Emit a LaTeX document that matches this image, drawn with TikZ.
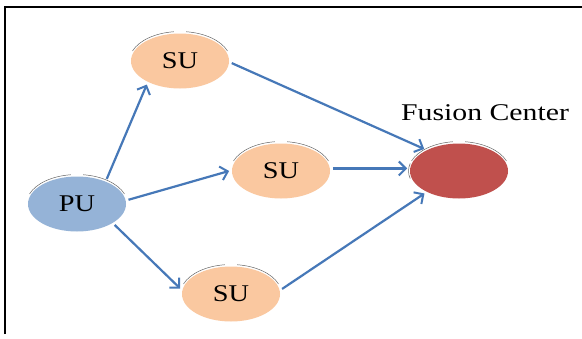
\documentclass[tikz,border=0pt]{standalone}
\usepackage{fontspec}
\setmainfont{Liberation Serif}
\usetikzlibrary{shapes.geometric,arrows.meta}
\definecolor{puBlue}{HTML}{95B3D7}
\definecolor{suPeach}{HTML}{FAC8A0}
\definecolor{fcRed}{HTML}{C0504D}
\definecolor{arrBlue}{HTML}{4678B8}
\tikzset{
  lbl/.style={font=\fontsize{24}{27}\selectfont},
  blob/.style={ellipse, minimum width=98pt, minimum height=55pt, inner sep=0pt, outer sep=0pt, lbl},
  pu/.style={blob, fill=puBlue},
  su/.style={blob, fill=suPeach},
  fc/.style={blob, fill=fcRed},
  link/.style={draw=arrBlue, line width=2.2pt, shorten <=3pt, shorten >=3pt,
    -{Straight Barb[length=7pt, width=14pt, line width=2pt]}},
  rim/.style={draw=black!60, line width=0.5pt},
  frame/.style={draw=black, line width=2pt}
}
\newcommand{\wlabel}[1]{\scalebox{1.18}[1]{#1}}
\begin{document}
\begin{tikzpicture}[x=1pt,y=1pt]
\useasboundingbox (0,0) rectangle (582,-338);
\fill[white] (0,0) rectangle (582,-338);
% frame (left and top edges)
\draw[frame] (4.5,-334) -- (4.5,-6.5) -- (582,-6.5);
% nodes
\node[pu] (pu) at (77,-204) {\wlabel{PU}};
\node[su] (su1) at (180,-61) {\wlabel{SU}};
\node[su] (su2) at (281,-171) {\wlabel{SU}};
\node[su] (su3) at (231,-294) {\wlabel{SU}};
\node[fc] (fc) at (459,-171) {};
\node[lbl] (fclabel) at (485,-113) {\scalebox{1.24}[1]{Fusion Center}};
% rims (shadow arcs)
\foreach \n in {pu,su1,su2,su3,fc}{
  \draw[rim,shift={(\n.center)}] (160:50.5 and 29.5) arc[start angle=160,end angle=97,x radius=50.5,y radius=29.5];
  \draw[rim,shift={(\n.center)}] (83:50.5 and 29.5) arc[start angle=83,end angle=20,x radius=50.5,y radius=29.5];
}
\draw[rim,shift={(fc.center)}] (195:50.5 and 29.5) arc[start angle=195,end angle=165,x radius=50.5,y radius=29.5];
% connectors
\draw[link] (pu.38) -- (su1.213);
\draw[link] (pu.4) -- (su2.179);
\draw[link] (pu.-28) -- (su3.176);
\draw[link] (su1.-1) -- (fc.147);
\draw[link] (su2.3) -- (fc.177);
\draw[link] (su3.4) -- (fc.-147);
\end{tikzpicture}
\end{document}
